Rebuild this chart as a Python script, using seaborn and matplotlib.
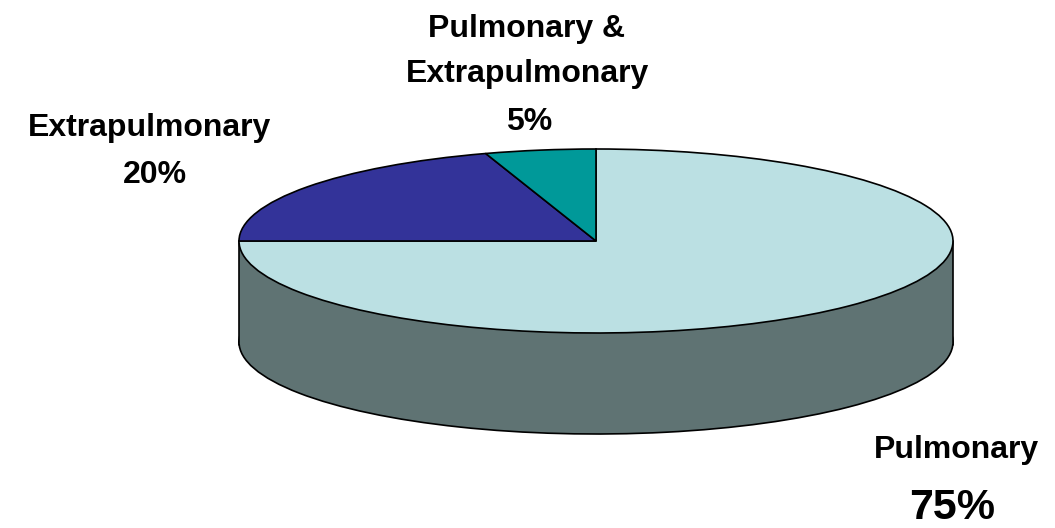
import matplotlib
matplotlib.use("Agg")
import matplotlib.pyplot as plt
import seaborn as sns

sns.set_theme(style="white")
plt.rcParams['font.family'] = ['Liberation Sans', 'DejaVu Sans']

# Data
categories = ["Pulmonary", "Extrapulmonary", "Pulmonary &\nExtrapulmonary"]
values = [75, 20, 5]
top_colors = ["#BBE0E3", "#333399", "#009999"]
side_color = "#5F7373"

W, H = 1055, 528
fig = plt.figure(figsize=(W / 100, H / 100), dpi=100)
ax = fig.add_axes([0, 0, 1, 1])

cx, cy = 596, 241      # pixel centre of top ellipse
rx, ry = 357, 92       # pixel radii
depth_px = 101
d = depth_px / ry

lw = 1.2
# bottom face (side wall)
ax.pie(values, colors=[side_color] * len(values), startangle=90, counterclock=False,
       center=(0, -d), radius=1, wedgeprops=dict(edgecolor="black", linewidth=lw))
ax.fill_between([-1, 1], [-d - 0.02, -d - 0.02], [0, 0], color=side_color,
                linewidth=0, zorder=3)
ax.plot([-1, -1], [-d - 0.03, 0], color="black", lw=lw, zorder=3)
ax.plot([1, 1], [-d - 0.03, 0], color="black", lw=lw, zorder=3)
# top face
wedges, _ = ax.pie(values, colors=top_colors, startangle=90, counterclock=False,
                   center=(0, 0), radius=1,
                   wedgeprops=dict(edgecolor="black", linewidth=lw))
for w in wedges:
    w.set_zorder(4)

ax.set_aspect("auto")
ax.set_xlim(-cx / rx, (W - cx) / rx)
ax.set_ylim(-(H - cy) / ry, cy / ry)
ax.axis("off")

def ptext(x, y, s, size):
    fig.text(x / W, 1 - y / H, s, ha="center", va="baseline", fontsize=size,
             fontweight="bold", color="black")

# labels (pixel baselines)
top_lines = categories[2].split("\n")
ptext(527, 37, top_lines[0], 23)
ptext(527, 82, top_lines[1], 23)
ptext(529, 130, f"{values[2]}%", 23)
ptext(149, 136, categories[1], 23)
ptext(155, 183, f"{values[1]}%", 23)
ptext(956, 458, categories[0], 23)
ptext(952, 519, f"{values[0]}%", 31)

fig.savefig("out.png", dpi=100)
